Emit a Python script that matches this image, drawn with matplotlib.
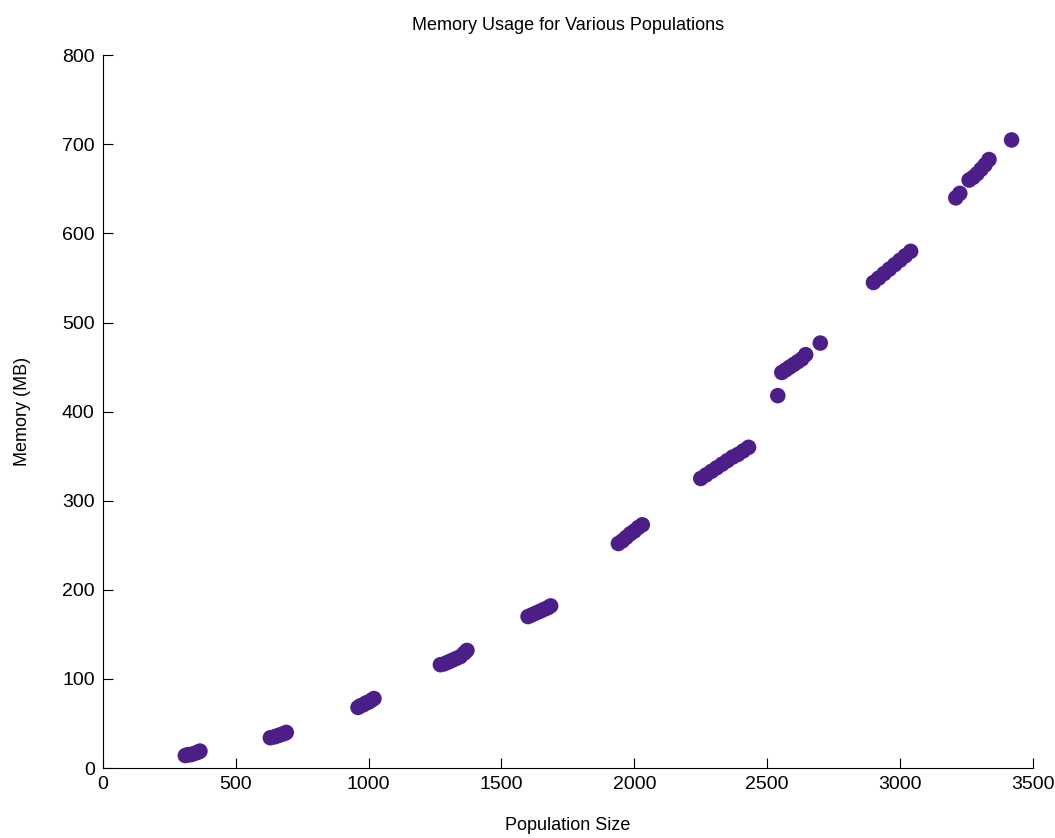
import numpy as np
import matplotlib.pyplot as plt

plt.rcParams['font.family'] = ['Liberation Sans', 'DejaVu Sans']

# population size / memory (MB)
pop = [310, 320, 330, 340, 350, 360, 365,
       630, 645, 655, 665, 675, 685, 690,
       960, 970, 980, 990, 1000, 1010, 1020,
       1270, 1285, 1300, 1315, 1330, 1345, 1360, 1370,
       1600, 1615, 1630, 1645, 1660, 1675, 1685,
       1940, 1955, 1970, 1985, 2000, 2015, 2030,
       2250, 2270, 2290, 2310, 2330, 2350, 2370, 2390, 2410, 2430,
       2540, 2555, 2570, 2585, 2600, 2615, 2630, 2645, 2700,
       2900, 2920, 2940, 2960, 2980, 3000, 3020, 3040,
       3210, 3225, 3260, 3275, 3290, 3305, 3320, 3335, 3420]
mem = [14, 15, 15, 16, 17, 18, 19,
       34, 35, 36, 37, 38, 39, 40,
       68, 70, 71, 73, 74, 76, 78,
       116, 117, 119, 121, 123, 125, 129, 132,
       170, 172, 174, 176, 178, 180, 182,
       252, 255, 259, 263, 266, 270, 273,
       325, 329, 333, 337, 341, 345, 349, 352, 356, 360,
       418, 444, 447, 450, 453, 456, 459, 464, 477,
       545, 550, 555, 560, 565, 570, 575, 580,
       640, 645, 660, 663, 667, 672, 677, 683, 705]

fig = plt.figure(figsize=(10.55, 8.38), dpi=100)
ax = fig.add_axes([0.0976, 0.0835, 0.8814, 0.8505])

ax.scatter(pop, mem, s=125, color='#4b1f87', edgecolors='none', zorder=3)

ax.set_xlim(0, 3500)
ax.set_ylim(0, 800)
ax.set_xticks(np.arange(0, 3501, 500))
ax.set_yticks(np.arange(0, 801, 100))
ax.tick_params(direction='in', length=7, labelsize=14, pad=6)
ax.spines['top'].set_visible(False)
ax.spines['right'].set_visible(False)

ax.set_xlabel('Population Size', fontsize=13, labelpad=17)
ax.set_ylabel('Memory (MB)', fontsize=13, labelpad=22)
ax.set_title('Memory Usage for Various Populations', fontsize=13, pad=18)

fig.savefig('out.png', dpi=100)
